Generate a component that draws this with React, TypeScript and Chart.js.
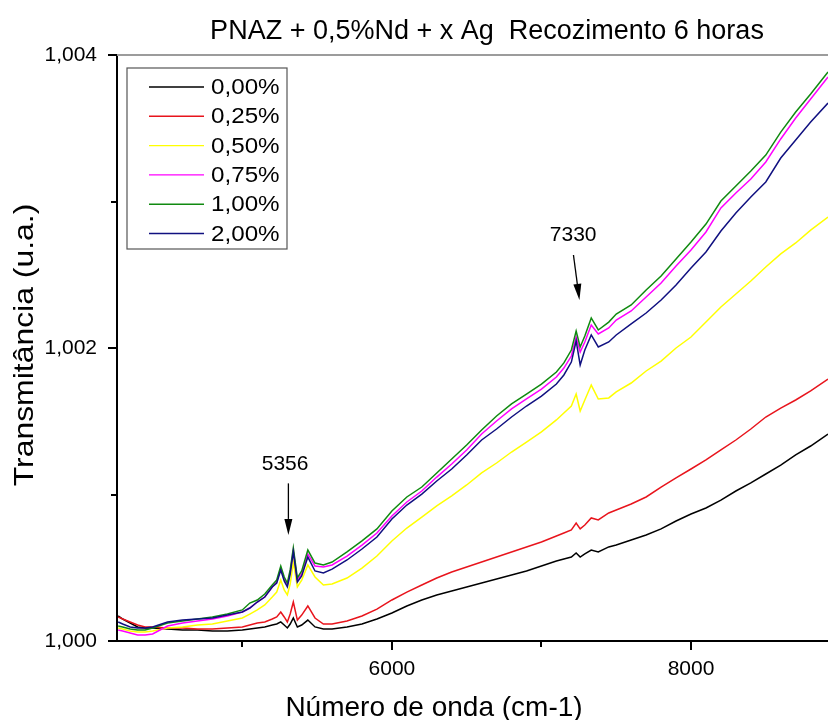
import React, { useEffect, useRef } from 'react';
import { Chart, registerables } from 'chart.js';

Chart.register(...registerables);

const TITLE = 'PNAZ + 0,5%Nd + x Ag  Recozimento 6 horas';
const X_TITLE = 'Número de onda (cm-1)';
const Y_TITLE = 'Transmitância (u.a.)';

const SERIES_LABELS = ['0,00%', '0,25%', '0,50%', '0,75%', '1,00%', '2,00%'];
const SERIES_COLORS = ['#000000', '#e8141c', '#ffff00', '#ff00ff', '#108a10', '#101080'];

const X_MIN = 4162;
const X_MAX = 8916;
const Y_MIN = 1.0;
const Y_MAX = 1.004;
const X_TICKS = [5000, 6000, 7000, 8000];
const Y_TICKS = [1.0, 1.001, 1.002, 1.003, 1.004];
const X_TICK_LABELS = [6000, 8000];
const Y_TICK_LABELS = [1.0, 1.002, 1.004];

const WAVENUMBERS = [
  4170, 4200, 4250, 4300, 4350, 4400, 4500, 4600, 4700, 4800, 4900, 5000,
  5050, 5100, 5150, 5200, 5230, 5257, 5280, 5301, 5320, 5341, 5368, 5397,
  5438, 5486, 5542, 5600, 5700, 5800, 5900, 6000, 6100, 6200, 6300, 6400,
  6500, 6600, 6700, 6800, 6900, 7000, 7100, 7150, 7200, 7232, 7259, 7290,
  7333, 7380, 7450, 7500, 7600, 7700, 7800, 7900, 8000, 8100, 8200, 8300,
  8400, 8500, 8600, 8700, 8800, 8916,
];

const T_000 = [
  1.000171, 1.00015, 1.000123, 1.000096, 1.000089, 1.000089, 1.000082, 1.000075, 1.000075, 1.000068, 1.000068, 1.000075,
  1.000082, 1.000089, 1.000096, 1.000109, 1.000116, 1.00013, 1.000109, 1.000089, 1.000116, 1.000157, 1.000096, 1.000109,
  1.000143, 1.000096, 1.000082, 1.000082, 1.000096, 1.000116, 1.00015, 1.000191, 1.000239, 1.00028, 1.000314, 1.000341,
  1.000369, 1.000396, 1.000423, 1.000451, 1.000478, 1.000512, 1.000546, 1.00056, 1.000573, 1.000601, 1.000573, 1.000594,
  1.000621, 1.000608, 1.000642, 1.000655, 1.000689, 1.000724, 1.000765, 1.000819, 1.000867, 1.000908, 1.000962, 1.001024,
  1.001079, 1.00114, 1.001201, 1.00127, 1.001331, 1.001413,
];

const T_025 = [
  1.000164, 1.00015, 1.00013, 1.000109, 1.000096, 1.000096, 1.000089, 1.000089, 1.000082, 1.000082, 1.000089, 1.000096,
  1.000109, 1.000123, 1.00013, 1.00015, 1.000164, 1.000198, 1.000164, 1.00013, 1.000184, 1.000266, 1.000143, 1.000177,
  1.000239, 1.000157, 1.000116, 1.000116, 1.000137, 1.000171, 1.000218, 1.00028, 1.000334, 1.000382, 1.00043, 1.000471,
  1.000505, 1.000539, 1.000573, 1.000608, 1.000642, 1.000676, 1.000717, 1.000737, 1.000758, 1.000805, 1.000765, 1.000792,
  1.00084, 1.000826, 1.000874, 1.000894, 1.000935, 1.000983, 1.001051, 1.001113, 1.001174, 1.001236, 1.001304, 1.001372,
  1.001447, 1.001529, 1.00159, 1.001645, 1.001707, 1.001788,
];

const T_050 = [
  1.000089, 1.000082, 1.000068, 1.000061, 1.000061, 1.000068, 1.000089, 1.000096, 1.000109, 1.000116, 1.000137, 1.000157,
  1.000184, 1.000212, 1.000246, 1.0003, 1.000334, 1.000416, 1.000348, 1.000314, 1.000389, 1.000539, 1.000369, 1.000416,
  1.000519, 1.000437, 1.000382, 1.000389, 1.00043, 1.000498, 1.00058, 1.000683, 1.000771, 1.000846, 1.000922, 1.00099,
  1.001065, 1.001147, 1.001215, 1.00129, 1.001358, 1.001427, 1.001509, 1.001556, 1.001604, 1.001686, 1.00157, 1.001645,
  1.001747, 1.001652, 1.001659, 1.0017, 1.001761, 1.001843, 1.001911, 1.002, 1.002075, 1.002177, 1.00228, 1.002369,
  1.002457, 1.002553, 1.002642, 1.002717, 1.002805, 1.002894,
];

const T_075 = [
  1.000075, 1.000068, 1.000055, 1.000041, 1.000041, 1.000048, 1.000102, 1.000123, 1.000137, 1.00015, 1.000171, 1.000198,
  1.000225, 1.000266, 1.0003, 1.000369, 1.000403, 1.000498, 1.000423, 1.000382, 1.000471, 1.000621, 1.000416, 1.000457,
  1.000594, 1.000512, 1.000505, 1.000519, 1.00058, 1.000655, 1.000737, 1.000853, 1.000949, 1.001024, 1.001119, 1.001208,
  1.001304, 1.001413, 1.001502, 1.001584, 1.001652, 1.00172, 1.001802, 1.001863, 1.001945, 1.002075, 1.001973, 1.002041,
  1.002157, 1.002096, 1.002137, 1.002191, 1.002253, 1.002348, 1.002444, 1.00256, 1.002669, 1.002792, 1.002956, 1.003058,
  1.003154, 1.00327, 1.003427, 1.00357, 1.0037, 1.00385,
];

const T_100 = [
  1.000102, 1.000096, 1.000082, 1.000075, 1.000075, 1.000089, 1.000123, 1.000137, 1.00015, 1.000164, 1.000184, 1.000212,
  1.000259, 1.00028, 1.000321, 1.000382, 1.000416, 1.000512, 1.000437, 1.000396, 1.000485, 1.000635, 1.00043, 1.000478,
  1.000621, 1.000532, 1.000519, 1.000539, 1.000608, 1.000683, 1.000765, 1.000887, 1.000983, 1.001051, 1.001147, 1.001242,
  1.001338, 1.00144, 1.001536, 1.001618, 1.001686, 1.001754, 1.001836, 1.001898, 1.001986, 1.002116, 1.002007, 1.002082,
  1.002205, 1.002123, 1.002177, 1.002232, 1.002294, 1.002396, 1.002491, 1.002608, 1.002724, 1.002846, 1.003003, 1.003106,
  1.003208, 1.003317, 1.003474, 1.003611, 1.003734, 1.003884,
];

const T_200 = [
  1.00013, 1.000116, 1.000096, 1.000089, 1.000089, 1.000096, 1.00013, 1.000143, 1.00015, 1.000157, 1.000177, 1.000198,
  1.000225, 1.000266, 1.0003, 1.000369, 1.000396, 1.000485, 1.00041, 1.000369, 1.000457, 1.000608, 1.000403, 1.000444,
  1.000573, 1.000478, 1.000464, 1.000491, 1.000553, 1.000628, 1.00071, 1.000833, 1.000928, 1.001003, 1.001092, 1.001174,
  1.00127, 1.001372, 1.001447, 1.001529, 1.001604, 1.001672, 1.001754, 1.001816, 1.001904, 1.002048, 1.001884, 1.001986,
  1.002089, 1.002007, 1.002041, 1.002089, 1.002164, 1.002239, 1.002328, 1.00243, 1.002546, 1.002655, 1.002799, 1.002922,
  1.003031, 1.003133, 1.003297, 1.00342, 1.003543, 1.003672,
];

const SERIES_VALUES = [T_000, T_025, T_050, T_075, T_100, T_200];

const PEAK_NOTES = [
  { label: '5356', textX: 5286, textY: 1.00121, fromX: 5308, fromY: 1.001076, toX: 5308, toY: 1.000724 },
  { label: '7330', textX: 7212, textY: 1.002771, fromX: 7214, fromY: 1.002635, toX: 7254, toY: 1.002328 },
];

const FONT = '"Liberation Sans", Arial, Helvetica, sans-serif';

const decorPlugin = {
  id: 'decor',
  afterDraw(chart: any) {
    const { ctx, chartArea: ca, scales } = chart;
    const xs = scales.x;
    const ys = scales.y;
    ctx.save();

    // top frame line
    ctx.strokeStyle = '#9c9c9c';
    ctx.lineWidth = 2;
    ctx.beginPath();
    ctx.moveTo(ca.left, ca.top);
    ctx.lineTo(ca.right, ca.top);
    ctx.stroke();

    // axis ticks
    ctx.strokeStyle = '#000';
    ctx.lineWidth = 2;
    xs.ticks.forEach((t: any) => {
      const px = Math.round(xs.getPixelForValue(t.value));
      const major = X_TICK_LABELS.includes(t.value);
      ctx.beginPath();
      ctx.moveTo(px, ca.bottom);
      ctx.lineTo(px, ca.bottom + (major ? 9 : 6));
      ctx.stroke();
    });
    ys.ticks.forEach((t: any) => {
      const py = Math.round(ys.getPixelForValue(t.value));
      const major = Y_TICK_LABELS.some((v) => Math.abs(v - t.value) < 1e-7);
      ctx.beginPath();
      ctx.moveTo(ca.left, py);
      ctx.lineTo(ca.left - (major ? 9 : 6), py);
      ctx.stroke();
    });

    // title
    ctx.fillStyle = '#000';
    ctx.textAlign = 'center';
    ctx.textBaseline = 'alphabetic';
    ctx.font = `27px ${FONT}`;
    ctx.fillText(TITLE, 487, 39);

    // x axis title
    ctx.font = `28px ${FONT}`;
    ctx.fillText(X_TITLE, 434, 716);

    // y axis title
    ctx.save();
    ctx.translate(33, 345);
    ctx.rotate(-Math.PI / 2);
    ctx.scale(1.14, 1);
    ctx.font = `28px ${FONT}`;
    ctx.fillText(Y_TITLE, 0, 0);
    ctx.restore();

    // peak annotations
    ctx.font = `21px ${FONT}`;
    ctx.textBaseline = 'middle';
    PEAK_NOTES.forEach((n) => {
      const tx = xs.getPixelForValue(n.textX);
      const ty = ys.getPixelForValue(n.textY);
      ctx.fillText(n.label, tx, ty);
      const x1 = xs.getPixelForValue(n.fromX);
      const y1 = ys.getPixelForValue(n.fromY);
      const x2 = xs.getPixelForValue(n.toX);
      const y2 = ys.getPixelForValue(n.toY);
      const ang = Math.atan2(y2 - y1, x2 - x1);
      const headLen = 16;
      const headHalf = 4;
      const bx = x2 - headLen * Math.cos(ang);
      const by = y2 - headLen * Math.sin(ang);
      ctx.lineWidth = 1.3;
      ctx.beginPath();
      ctx.moveTo(x1, y1);
      ctx.lineTo(bx, by);
      ctx.stroke();
      ctx.beginPath();
      ctx.moveTo(x2, y2);
      ctx.lineTo(bx + headHalf * Math.sin(ang), by - headHalf * Math.cos(ang));
      ctx.lineTo(bx - headHalf * Math.sin(ang), by + headHalf * Math.cos(ang));
      ctx.closePath();
      ctx.fill();
    });

    // legend box
    const lx = ca.left + 10;
    const ly = ca.top + 13;
    const lw = 160;
    const lh = 181;
    ctx.fillStyle = '#fff';
    ctx.fillRect(lx, ly, lw, lh);
    ctx.strokeStyle = '#555';
    ctx.lineWidth = 1.2;
    ctx.strokeRect(lx, ly, lw, lh);
    chart.data.datasets.forEach((ds: any, i: number) => {
      const cy = ly + 19 + i * 29.3;
      ctx.strokeStyle = ds.borderColor;
      ctx.lineWidth = 1.4;
      ctx.beginPath();
      ctx.moveTo(lx + 22, cy);
      ctx.lineTo(lx + 77, cy);
      ctx.stroke();
      ctx.save();
      ctx.translate(lx + 84, cy);
      ctx.scale(1.1, 1);
      ctx.fillStyle = '#000';
      ctx.textAlign = 'left';
      ctx.textBaseline = 'middle';
      ctx.font = `22px ${FONT}`;
      ctx.fillText(ds.label, 0, 1);
      ctx.restore();
    });

    ctx.restore();
  },
};

export default function App() {
  const canvasRef = useRef<HTMLCanvasElement | null>(null);

  useEffect(() => {
    document.body.style.margin = '0';
    const canvas = canvasRef.current;
    if (!canvas) return;
    Chart.defaults.font.family = FONT;
    const datasets = SERIES_VALUES.map((vals, i) => ({
      label: SERIES_LABELS[i],
      data: WAVENUMBERS.map((w, j) => ({ x: w, y: vals[j] })),
      borderColor: SERIES_COLORS[i],
      backgroundColor: SERIES_COLORS[i],
      borderWidth: 1.5,
      pointRadius: 0,
      tension: 0,
      fill: false,
      order: SERIES_VALUES.length - 1 - i,
    }));
    const chart = new Chart(canvas, {
      type: 'line',
      data: { datasets },
      options: {
        animation: false,
        responsive: false,
        maintainAspectRatio: false,
        layout: { padding: { top: 55, left: 0, right: 0, bottom: 0 } },
        plugins: {
          legend: { display: false },
          title: { display: false },
          tooltip: { enabled: false },
        },
        scales: {
          x: {
            type: 'linear',
            min: X_MIN,
            max: X_MAX,
            grid: { display: false, drawTicks: false },
            border: { display: true, color: '#000', width: 2 },
            afterBuildTicks: (s: any) => {
              s.ticks = X_TICKS.map((v) => ({ value: v }));
            },
            ticks: {
              autoSkip: false,
              maxRotation: 0,
              padding: 16,
              color: '#000',
              font: { size: 21, family: FONT },
              callback: (v: any) => (X_TICK_LABELS.includes(Number(v)) ? String(v) : ''),
            },
            afterFit: (s: any) => {
              s.height = 79;
              s.paddingLeft = 0;
              s.paddingRight = 0;
            },
          },
          y: {
            type: 'linear',
            min: Y_MIN,
            max: Y_MAX,
            grid: { display: false, drawTicks: false },
            border: { display: true, color: '#000', width: 2 },
            afterBuildTicks: (s: any) => {
              s.ticks = Y_TICKS.map((v) => ({ value: v }));
            },
            ticks: {
              autoSkip: false,
              padding: 20,
              color: '#000',
              font: { size: 21, family: FONT },
              callback: (v: any) =>
                Y_TICK_LABELS.some((t) => Math.abs(t - Number(v)) < 1e-7)
                  ? Number(v).toFixed(3).replace('.', ',')
                  : '',
            },
            afterFit: (s: any) => {
              s.width = 117;
            },
          },
        },
      },
      plugins: [decorPlugin],
    });
    return () => chart.destroy();
  }, []);

  return (
    <div style={{ width: 828, height: 720, background: '#fff' }}>
      <canvas ref={canvasRef} width={828} height={720} style={{ display: 'block' }} />
    </div>
  );
}
